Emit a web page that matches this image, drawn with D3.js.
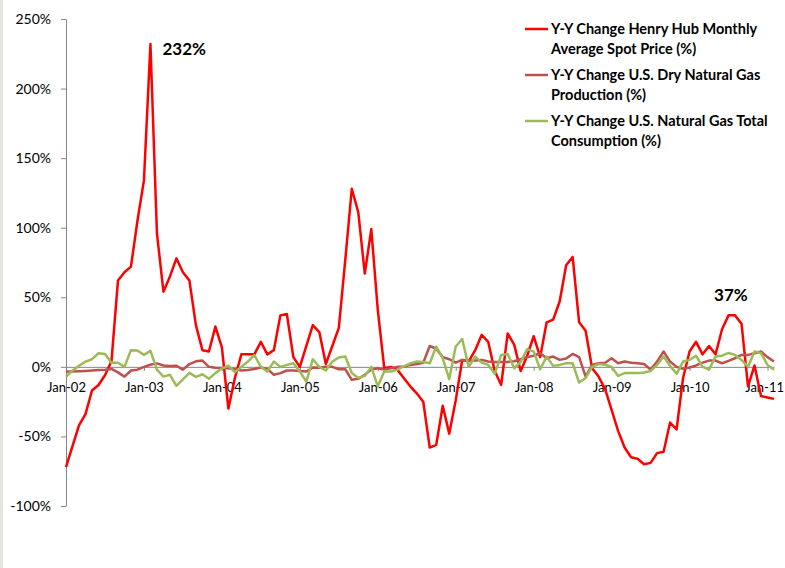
<!DOCTYPE html>
<html>
<head>
<meta charset="utf-8">
<script src="https://cdn.jsdelivr.net/npm/d3@7"></script>
<style>
  body { margin: 0; background: #fff; }
  text { font-family: Lato, "Open Sans", sans-serif; }
</style>
</head>
<body>
<div id="chart"></div>
<script>
// Chart size and plot box
const width = 785;
const height = 568;
const margin = { top: 19, right: 11, bottom: 62, left: 66 };

// Months Jan-02 .. Feb-11 (index 0..109)
const monthIndex = d3.range(110);
const yearTicks = [0, 12, 24, 36, 48, 60, 72, 84, 96, 108];
const tickLabels = ["Jan-02", "Jan-03", "Jan-04", "Jan-05", "Jan-06", "Jan-07", "Jan-08", "Jan-09", "Jan-10", "Jan-11"];
const yTicks = [-100, -50, 0, 50, 100, 150, 200, 250];

// Y-Y change Henry Hub monthly average spot price (%)
const priceChange = [
  -72, -57, -42, -34, -17, -13, -6, 4, 62, 68, 72, 105,
  134, 232, 96, 54, 65, 78, 68, 62, 30, 12, 11, 29,
  14, -30, -8, 9, 9, 9, 18, 9, 12, 37, 38, 7,
  0, 15, 30, 25, 2, 15, 28, 77, 128, 111, 67, 99,
  41, -1, 0, -2, -8, -14, -19, -25, -58, -56, -28, -48,
  -24, 5, 4, 12, 23, 18, -3, -13, 24, 16, -3, 8,
  22, 7, 32, 34, 47, 73, 79, 32, 26, -1, -7, -16,
  -31, -46, -58, -65, -66, -70, -69, -62, -61, -40, -45, -8,
  11, 18, 9, 15, 9, 27, 37, 37, 31, -14, 1, -21,
  -22, -23
];

// Y-Y change U.S. dry natural gas production (%)
const productionChange = [
  -3.3, -3.3, -3.2, -3, -2.7, -2.3, -2, -1.5, -4, -7, -2.6, -2,
  0, 1.5, 2.5, 1, 0.7, 0.8, -2, 2, 4, 4.5, 0, -0.7,
  -0.8, -1, -1.7, -2.6, -2.3, -1.5, -0.5, -1.5, -5.7, -4.5, -2.6, -2.7,
  -3, -3.3, -0.5, -0.7, 0, 0, -1.7, -1.7, -9.3, -8.6, -5.7, -2,
  -1, -2, -1, 0, 0, 1.4, 2, 3, 15, 13, 7, 5.5,
  3, 5, 4.5, 4.5, 5, 3.8, 3.5, 3.5, 3.5, 4, 5.5, 7,
  8, 9.8, 6.2, 7.4, 5, 6, 9.3, 7, -7, 1.4, 2.6, 3,
  6.2, 2.6, 3.8, 3, 2.6, 2, -2, 3.8, 11, 3.8, 0, -1.4,
  -0.5, 1, 3, 4.5, 4.5, 2.6, 4.3, 6.2, 8.6, 8.6, 9.8, 11,
  7, 3.8
];

// Y-Y change U.S. natural gas total consumption (%)
const consumptionChange = [
  -7, -2.6, 0.7, 3.8, 5.5, 9.8, 9.3, 3, 3, 0, 12, 11.7,
  8.6, 11.5, -2, -7, -5.7, -13.6, -9, -4.3, -7.2, -5.3, -8.5, -4.5,
  -1.2, 0.8, -3.8, 0, 3.8, 8.5, 0, -3.3, 3.8, 0, 1.4, 2.6,
  -3.3, -10.5, 5.5, 0, -2.6, 3.8, 6.7, 7.4, -4.5, -8, -6.5, 0,
  -14, -3.3, -3.3, -2, 0.3, 2.5, 3.8, 3.5, 2.6, 14.6, 6.2, -8.8,
  14.6, 20, 0, 7.4, 3, 1.4, -5, 8.6, 9.3, -1, 3.5, 12.7,
  11, -1.7, 7.4, 0.7, 1.4, 2.6, 2.6, -11.3, -8, 0, 2, 1.5,
  0, -6.5, -4.5, -4.5, -4.5, -4, -3, 1.4, 7.4, 0.7, -5, 3.8,
  5, 8, 0, -2, 7.4, 8, 10, 8.6, 5, 0, 11, 9.8,
  1.4, -2
];

const seriesNames = [
  ["Y-Y Change Henry Hub Monthly", "Average Spot Price (%)"],
  ["Y-Y Change U.S. Dry Natural Gas", "Production (%)"],
  ["Y-Y Change U.S. Natural Gas Total", "Consumption (%)"]
];
const seriesColors = ["#FF0000", "#C0504D", "#9BBB59"];
const seriesValues = [priceChange, productionChange, consumptionChange];

const svg = d3.select("#chart")
  .append("svg")
  .attr("width", width)
  .attr("height", height);

// light strip on the left edge
svg.append("rect")
  .attr("x", 0).attr("y", 0)
  .attr("width", 3).attr("height", height)
  .attr("fill", "#E6E6DE");

// Scales
const x = d3.scaleLinear()
  .domain([0, 109])
  .range([margin.left, width - margin.right]);

const y = d3.scaleLinear()
  .domain([-100, 250])
  .range([height - margin.bottom, margin.top]);

// Y axis
svg.append("g")
  .attr("transform", `translate(${margin.left},0)`)
  .call(d3.axisLeft(y).tickValues(yTicks).tickFormat(d => d + "%").tickSize(5).tickSizeOuter(0).tickPadding(10))
  .call(g => g.select(".domain").attr("stroke", "#868686"))
  .call(g => g.selectAll(".tick line").attr("stroke", "#868686"))
  .call(g => g.selectAll("text").attr("font-size", "14px").attr("fill", "#000").style("font-family", "Lato, sans-serif"));

// X axis on the zero line
svg.append("g")
  .attr("transform", `translate(0,${y(0)})`)
  .call(d3.axisBottom(x).tickValues(yearTicks).tickFormat((d, i) => tickLabels[i]).tickSize(4).tickSizeOuter(0).tickPadding(12))
  .call(g => g.select(".domain").attr("stroke", "#868686"))
  .call(g => g.selectAll(".tick line").attr("stroke", "#868686"))
  .call(g => g.selectAll("text").attr("font-size", "13px").attr("fill", "#000").style("font-family", "Lato, sans-serif"))
  // last label sits against the right edge
  .call(g => g.selectAll(".tick:last-of-type text").attr("text-anchor", "end").attr("dx", "16px"));

// Lines
const line = d3.line()
  .x((d, i) => x(monthIndex[i]))
  .y(d => y(d));

seriesValues.forEach((vals, k) => {
  svg.append("path")
    .datum(vals)
    .attr("fill", "none")
    .attr("stroke", seriesColors[k])
    .attr("stroke-width", 2.5)
    .attr("stroke-linejoin", "round")
    .attr("d", line);
});

// Annotations
svg.append("text")
  .attr("x", x(13) + 12)
  .attr("y", y(232) + 11)
  .attr("font-size", "17px")
  .attr("font-weight", "bold")
  .text("232%");

svg.append("text")
  .attr("x", x(103) - 21)
  .attr("y", y(37) - 14)
  .attr("font-size", "17px")
  .attr("font-weight", "bold")
  .text("37%");

// Legend
const legend = svg.append("g").attr("transform", "translate(525,29)");
seriesNames.forEach((lines, k) => {
  const g = legend.append("g").attr("transform", `translate(0,${k * 46})`);
  g.append("line")
    .attr("x1", 0).attr("x2", 23)
    .attr("y1", 0).attr("y2", 0)
    .attr("stroke", seriesColors[k])
    .attr("stroke-width", 2.5);
  lines.forEach((t, j) => {
    g.append("text")
      .attr("x", 26)
      .attr("y", 5 + j * 20)
      .attr("font-size", "14.5px")
      .attr("font-weight", "bold")
      .text(t);
  });
});
</script>
</body>
</html>
